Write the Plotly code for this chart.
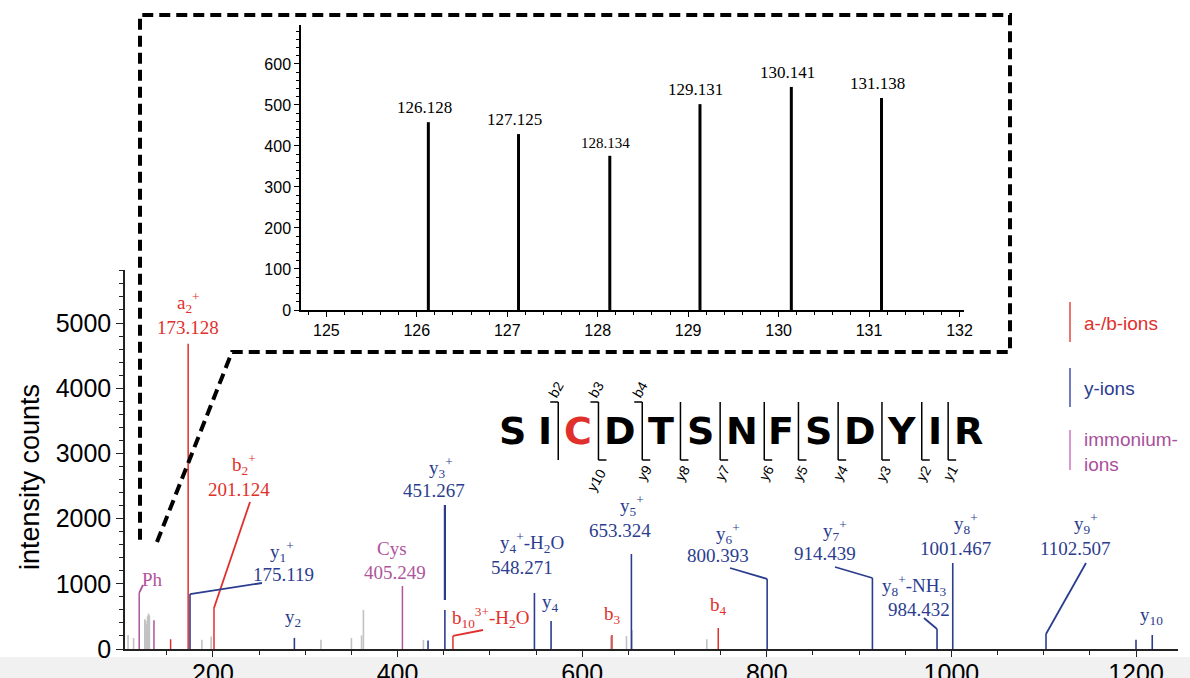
import plotly.graph_objects as go

W, H = 1190, 678

# ---------------- data ----------------
# unassigned peaks (grey)
grey_mz = [108.0, 114.0, 126.128, 127.125, 128.134, 129.131, 130.141, 131.138,
           188.0, 198.0, 317.0, 350.0, 361.0, 363.0, 428.0, 631.0, 648.0, 654.0, 735.0]
grey_int = [215, 170, 458, 429, 376, 502, 544, 517,
            140, 190, 140, 170, 210, 600, 140, 200, 200, 290, 150]

# a-/b-ions (red)
ab_mz = [154.1, 173.128, 201.124, 460.0, 632.3, 747.4]
ab_int = [150, 4680, 630, 200, 215, 322]

# y-ions (blue)
y_mz = [175.119, 288.2, 433.0, 451.267, 548.271, 566.28, 653.324, 800.393,
        914.439, 984.432, 1001.467, 1102.507, 1200.0, 1217.6]
y_int = [843, 170, 130, 598, 860, 430, 1457, 1074,
         1089, 307, 1319, 230, 140, 215]

# immonium ions (purple)
imm_mz = [120.08, 136.08, 405.249]
imm_int = [860, 440, 966]

# TMT reporter region (inset)
rep_mz = [126.128, 127.125, 128.134, 129.131, 130.141, 131.138]
rep_int = [458, 429, 376, 502, 544, 517]
rep_labels = ["126.128", "127.125", "128.134", "129.131", "130.141", "131.138"]

main_x_ticks = [200, 400, 600, 800, 1000, 1200]
main_y_ticks = [0, 1000, 2000, 3000, 4000, 5000]
inset_x_ticks = [125, 126, 127, 128, 129, 130, 131, 132]
inset_y_ticks = [0, 100, 200, 300, 400, 500, 600]

peptide = ["S", "I", "C", "D", "T", "S", "N", "F", "S", "D", "Y", "I", "R"]
modified_residue = 2          # index of the red C
b_ions = [2, 3, 4]
y_ions = [10, 9, 8, 7, 6, 5, 4, 3, 2, 1]

legend_names = ["a-/b-ions", "y-ions", "immonium-<br>ions"]

# ---------------- styles ----------------
RED = "#e1302b"
BLUE = "#2c3d8f"
PURPLE = "#b0549c"
GREY = "#c2c2c2"
SERIF = "Liberation Serif, Times New Roman, serif"
SANS = "Liberation Sans, Arial, sans-serif"

# pixel geometry helpers (margins are zero, so paper == full image)
def fx(px):
    return px / W

def fy(py):
    return 1 - py / H

MX0, MX1, MY0, MY1 = 125, 1178, 649, 270
XR = [104.7, 1245.5]
YR = [0, 5813]
IX0, IX1, IY0, IY1 = 301, 964, 310, 25
XR2 = [124.72, 132.05]
YR2 = [0, 695]


def mz_at(px):
    return XR[0] + (px - MX0) / (MX1 - MX0) * (XR[1] - XR[0])


def int_at(py):
    return YR[0] + (MY0 - py) / (MY0 - MY1) * (YR[1] - YR[0])


def sticks(mzs, ints):
    xs, ys = [], []
    for m, v in zip(mzs, ints):
        xs += [m, m, None]
        ys += [0, v, None]
    return xs, ys


fig = go.Figure()

for mzs, ints, col, wd in [(grey_mz, grey_int, GREY, 1.6),
                           (imm_mz, imm_int, PURPLE, 1.5),
                           (ab_mz, ab_int, RED, 1.5),
                           (y_mz, y_int, BLUE, 1.6)]:
    xs, ys = sticks(mzs, ints)
    fig.add_trace(go.Scatter(x=xs, y=ys, mode="lines", line=dict(color=col, width=wd),
                             hoverinfo="skip", showlegend=False, xaxis="x", yaxis="y"))

# leader lines from peak tops to labels
def peak(mzs, ints, m):
    return ints[mzs.index(m)]

leaders = [
    (RED, 201.124, peak(ab_mz, ab_int, 201.124), 250, 502),
    (RED, 460.0, peak(ab_mz, ab_int, 460.0), 483, 630),
    (BLUE, 175.119, peak(y_mz, y_int, 175.119), 262, 583),
    (BLUE, 800.393, peak(y_mz, y_int, 800.393), 730, 568),
    (BLUE, 914.439, peak(y_mz, y_int, 914.439), 835, 567),
    (BLUE, 984.432, peak(y_mz, y_int, 984.432), 924, 618),
    (BLUE, 1102.507, peak(y_mz, y_int, 1102.507), 1086, 563),
    (PURPLE, 120.08, peak(imm_mz, imm_int, 120.08), 143, 585),
]
for col, m, v, ex, ey in leaders:
    fig.add_trace(go.Scatter(x=[m, mz_at(ex)], y=[v, int_at(ey)], mode="lines",
                             line=dict(color=col, width=1.8), hoverinfo="skip",
                             showlegend=False, xaxis="x", yaxis="y"))
# vertical leader of y3+
fig.add_trace(go.Scatter(x=[451.267, 451.267], y=[int_at(600), int_at(505)], mode="lines",
                         line=dict(color=BLUE, width=2.2), hoverinfo="skip",
                         showlegend=False, xaxis="x", yaxis="y"))

# inset sticks
xs, ys = sticks(rep_mz, rep_int)
fig.add_trace(go.Scatter(x=xs, y=ys, mode="lines", line=dict(color="black", width=3),
                         hoverinfo="skip", showlegend=False, xaxis="x2", yaxis="y2"))

annotations = []
shapes = []

# main peak labels (pixel centred)
main_labels = [
    ("a<sub>2</sub><sup>+</sup>", RED, 188, 303),
    ("173.128", RED, 188, 327),
    ("b<sub>2</sub><sup>+</sup>", RED, 244, 465),
    ("201.124", RED, 239, 489),
    ("y<sub>1</sub><sup>+</sup>", BLUE, 282, 551),
    ("175.119", BLUE, 283, 574),
    ("Ph", PURPLE, 152, 579),
    ("y<sub>2</sub>", BLUE, 293, 618),
    ("Cys", PURPLE, 392, 548),
    ("405.249", PURPLE, 395, 572),
    ("y<sub>3</sub><sup>+</sup>", BLUE, 441, 467),
    ("451.267", BLUE, 434, 490),
    ("b<sub>10</sub><sup>3+</sup>-H<sub>2</sub>O", RED, 490, 617),
    ("y<sub>4</sub><sup>+</sup>-H<sub>2</sub>O", BLUE, 532, 542),
    ("548.271", BLUE, 522, 567),
    ("y<sub>4</sub>", BLUE, 550, 603),
    ("b<sub>3</sub>", RED, 613, 615),
    ("y<sub>5</sub><sup>+</sup>", BLUE, 632, 505),
    ("653.324", BLUE, 620, 530),
    ("b<sub>4</sub>", RED, 718, 606),
    ("y<sub>6</sub><sup>+</sup>", BLUE, 728, 533),
    ("800.393", BLUE, 718, 555),
    ("y<sub>7</sub><sup>+</sup>", BLUE, 835, 530),
    ("914.439", BLUE, 825, 553),
    ("y<sub>8</sub><sup>+</sup>-NH<sub>3</sub>", BLUE, 914, 585),
    ("984.432", BLUE, 919, 609),
    ("y<sub>8</sub><sup>+</sup>", BLUE, 966, 523),
    ("1001.467", BLUE, 955, 548),
    ("y<sub>9</sub><sup>+</sup>", BLUE, 1086, 523),
    ("1102.507", BLUE, 1075, 548),
    ("y<sub>10</sub>", BLUE, 1151, 616),
]
for txt, col, px, py in main_labels:
    annotations.append(dict(text=txt, x=fx(px), y=fy(py), xref="paper", yref="paper",
                            xanchor="center", yanchor="middle", showarrow=False,
                            font=dict(family=SERIF, size=19, color=col)))

# inset labels
for m, v, t in zip(rep_mz, rep_int, rep_labels):
    annotations.append(dict(text=t, x=m, y=v, xref="x2", yref="y2", xanchor="center",
                            yanchor="bottom", yshift=3, xshift=-4, showarrow=False,
                            font=dict(family=SERIF, size=15 if t == "128.134" else 17,
                                      color="black")))

# y axis title
annotations.append(dict(text="intensity counts", x=fx(30), y=fy(477), xref="paper",
                        yref="paper", textangle=-90, showarrow=False,
                        xanchor="center", yanchor="middle",
                        font=dict(family=SANS, size=27, color="black")))

# legend (vertical colour bars + labels)
leg_cols = [(RED, "#e8534d", RED), (BLUE, "#4a5db0", BLUE), (PURPLE, "#d07fc0", "#a8509a")]
leg_y = [(302, 342, 323), (368, 407, 388), (430, 470, 452)]
for name, (c, lc, tc), (y0, y1, yt) in zip(legend_names, leg_cols, leg_y):
    shapes.append(dict(type="line", xref="paper", yref="paper", x0=fx(1070), x1=fx(1070),
                       y0=fy(y0), y1=fy(y1), line=dict(color=lc, width=1.6)))
    annotations.append(dict(text=name, x=fx(1082), y=fy(yt), xref="paper", yref="paper",
                            xanchor="left", yanchor="middle", align="left", showarrow=False,
                            font=dict(family=SANS, size=19, color=tc)))

# peptide sequence with fragment brackets
letter_w = {"S": 27.4, "I": 14.1, "C": 27.9, "D": 31.5, "T": 25.9, "N": 31.8,
            "F": 21.9, "Y": 27.5, "R": 29.3}
gap = 12.3
centers = [512.0]
for i in range(1, len(peptide)):
    centers.append(centers[-1] + letter_w[peptide[i - 1]] / 2 + gap + letter_w[peptide[i]] / 2)
for i, (aa, cx) in enumerate(zip(peptide, centers)):
    annotations.append(dict(text=aa, x=fx(cx), y=fy(431), xref="paper", yref="paper",
                            xanchor="center", yanchor="middle", showarrow=False,
                            font=dict(family="DejaVu Sans", size=38, weight="bold",
                                      color=RED if i == modified_residue else "black")))

def site_x(after_residue):
    i = after_residue - 1
    return centers[i] + letter_w[peptide[i]] / 2 + gap / 2

BT, BB, HK = 402, 460, 8
sites = sorted(set(b_ions) | {len(peptide) - n for n in y_ions})
for s in sites:
    x = site_x(s)
    shapes.append(dict(type="line", xref="paper", yref="paper", x0=fx(x), x1=fx(x),
                       y0=fy(BT), y1=fy(BB), line=dict(color="black", width=1.5)))
for n in b_ions:
    x = site_x(n)
    shapes.append(dict(type="line", xref="paper", yref="paper", x0=fx(x - HK), x1=fx(x),
                       y0=fy(BT), y1=fy(BT), line=dict(color="black", width=1.5)))
    annotations.append(dict(text="b%d" % n, x=fx(x - 2), y=fy(389), xref="paper", yref="paper",
                            textangle=-60, showarrow=False, xanchor="center", yanchor="middle",
                            font=dict(family=SANS, size=14, color="black")))
for n in y_ions:
    x = site_x(len(peptide) - n)
    shapes.append(dict(type="line", xref="paper", yref="paper", x0=fx(x), x1=fx(x + HK),
                       y0=fy(BB), y1=fy(BB), line=dict(color="black", width=1.5)))
    lab = "y%d" % n
    annotations.append(dict(text=lab, x=fx(x + (-2 if n >= 10 else 2)),
                            y=fy(480 if n >= 10 else 473), xref="paper", yref="paper",
                            textangle=-60, showarrow=False, xanchor="center", yanchor="middle",
                            font=dict(family=SANS, size=14, color="black")))

# dashed zoom frame
pts = [(157, 542), (232, 352), (1010, 352), (1010, 15), (140, 15), (140, 545)]
path = "M " + " L ".join("%.5f,%.5f" % (fx(a), fy(b)) for a, b in pts)
shapes.append(dict(type="path", path=path, xref="paper", yref="paper",
                   line=dict(color="black", width=4, dash="11px,6px")))

# light band at very bottom (screenshot edge)
shapes.append(dict(type="rect", xref="paper", yref="paper", x0=0, x1=1, y0=0, y1=fy(657),
                   fillcolor="#f1f1f1", line=dict(width=0), layer="below"))

axis_common = dict(showgrid=False, zeroline=False, showline=True, ticks="outside")

fig.update_layout(
    autosize=True, margin=dict(l=0, r=0, t=0, b=0, autoexpand=False),
    paper_bgcolor="white", plot_bgcolor="rgba(0,0,0,0)",
    showlegend=False,
    xaxis=dict(**axis_common, domain=[fx(MX0), fx(MX1)], range=XR, anchor="y",
               tickvals=main_x_ticks, linecolor="#222", linewidth=1.5, tickcolor="#222",
               ticklen=6, tickwidth=1.2, ticklabelstandoff=-5,
               tickfont=dict(family=SANS, size=25, color="black"),
               minor=dict(dtick=50, tick0=0, ticks="outside", ticklen=4, tickcolor="#222",
                          tickwidth=1.2)),
    yaxis=dict(**axis_common, domain=[fy(MY0), fy(MY1)], range=YR, anchor="x",
               tickvals=main_y_ticks, linecolor="#222", linewidth=1.5, tickcolor="#222",
               ticklen=7, tickwidth=1.2,
               tickfont=dict(family=SANS, size=25, color="black"),
               minor=dict(dtick=200, tick0=0, ticks="outside", ticklen=4, tickcolor="#222",
                          tickwidth=1)),
    xaxis2=dict(**axis_common, domain=[fx(IX0), fx(IX1)], range=XR2, anchor="y2",
                tickvals=inset_x_ticks, linecolor="black", linewidth=1.5, tickcolor="black",
                ticklen=5, tickwidth=1.2,
                tickfont=dict(family=SANS, size=16, color="black"),
                minor=dict(dtick=0.2, tick0=0, ticks="outside", ticklen=3, tickcolor="black",
                           tickwidth=1)),
    yaxis2=dict(**axis_common, domain=[fy(IY0), fy(IY1)], range=YR2, anchor="x2",
                tickvals=inset_y_ticks, linecolor="black", linewidth=1.5, tickcolor="black",
                ticklen=5, tickwidth=1.2,
                tickfont=dict(family=SANS, size=16, color="black"),
                minor=dict(dtick=20, tick0=0, ticks="outside", ticklen=3, tickcolor="black",
                           tickwidth=1)),
    annotations=annotations,
    shapes=shapes,
)

# figure fills the whole browser viewport (all positions are relative)
page_js = ("var h=document.documentElement.style;h.margin='0';h.padding='0';h.overflow='hidden';"
           "var b=document.body.style;b.margin='0';b.padding='0';b.overflow='hidden';"
           "Plotly.Plots.resize(document.getElementById('{plot_id}'));")
fig.write_html("out.html", default_width="100vw", default_height="100vh",
               config={"responsive": True, "displayModeBar": False},
               post_script=page_js)
